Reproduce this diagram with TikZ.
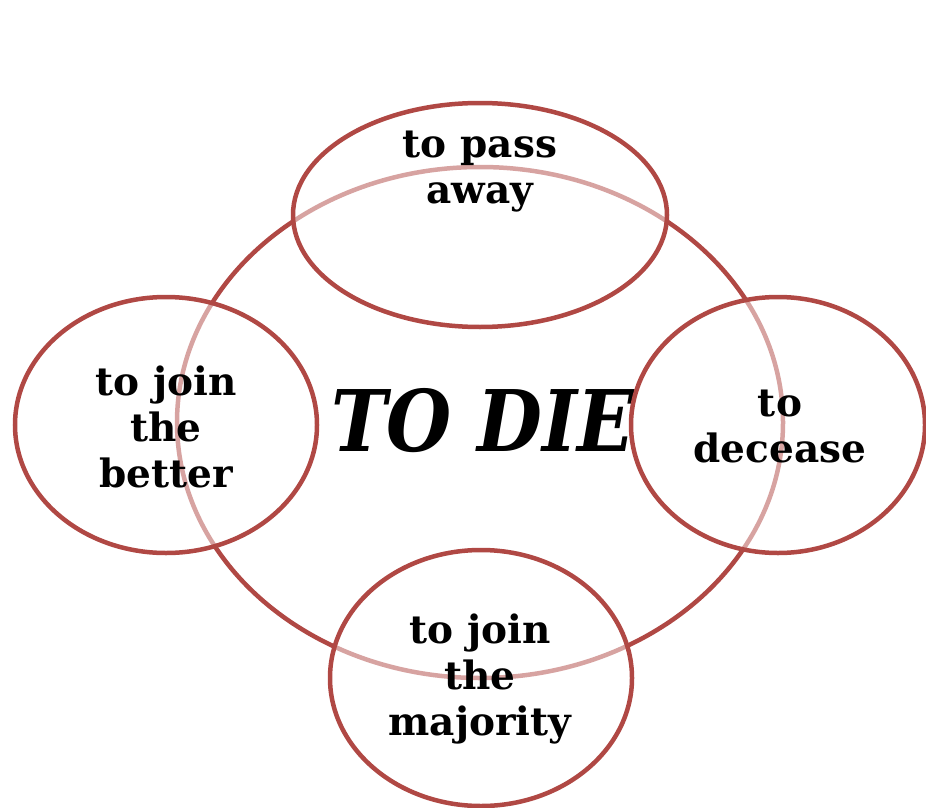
\documentclass[tikz,border=0pt]{standalone}
\usepackage{fontspec}
\setmainfont{DejaVu Serif}
\usetikzlibrary{shapes.geometric}
\definecolor{ringred}{RGB}{176,72,68}
\tikzset{
  ring/.style={ellipse, draw=ringred, line width=4.5pt, inner sep=0pt},
  petal/.style={ring, fill=white, fill opacity=0.5, draw opacity=1},
  lbl/.style={align=center, font=\bfseries\fontsize{39}{46}\selectfont, inner sep=0pt}
}
\begin{document}
\begin{tikzpicture}[x=1pt,y=-1pt]
\useasboundingbox (0,0) rectangle (926,808);
\node[ring, minimum width=606pt, minimum height=511pt] (big) at (480,422.5) {};
\node[inner sep=0pt, font=\bfseries\itshape\fontsize{85}{90}\selectfont, xscale=0.88] (die) at (483,421) {TO DIE};
\node[petal, minimum width=374pt, minimum height=224pt] (top) at (480,215) {};
\node[petal, minimum width=302pt, minimum height=256pt] (left) at (166,425) {};
\node[petal, minimum width=294pt, minimum height=256pt] (right) at (778,425) {};
\node[petal, minimum width=302pt, minimum height=256pt] (bottom) at (481,678) {};
\node[lbl] (ttop) at (480,172) {to pass\\away};
\node[lbl] (tleft) at (166,427) {to join\\the\\better};
\node[lbl] (tright) at (780,427) {to\\decease};
\node[lbl] (tbottom) at (480,679) {to join\\the\\majority};
\end{tikzpicture}
\end{document}
